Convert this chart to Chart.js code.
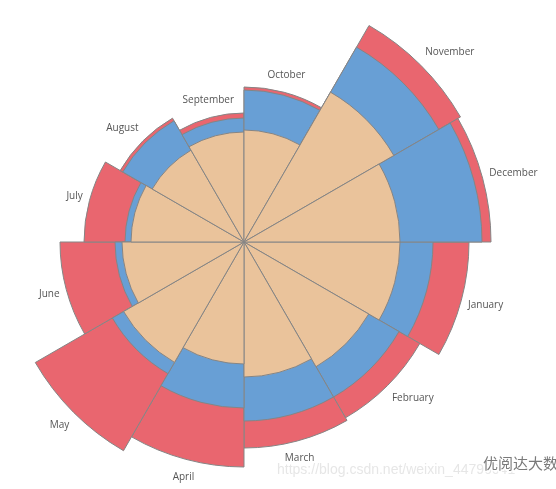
<!DOCTYPE html>
<html>
<head>
<meta charset="utf-8">
<script src="https://cdn.jsdelivr.net/npm/chart.js@4.4.1/dist/chart.umd.min.js"></script>
<style>
    html, body { margin: 0; padding: 0; background: #fff; }
    #wrap { width: 556px; height: 489px; }
</style>
</head>
<body>
<div id="wrap"><canvas id="rose" width="556" height="489"></canvas></div>
<script>
// months, clockwise from 3 o'clock
var months = ['January', 'February', 'March', 'April', 'May', 'June',
              'July', 'August', 'September', 'October', 'November', 'December'];

// stacked series (inner -> outer)
var innerValues  = [156, 144, 135, 122, 139, 122, 113, 106, 110, 112, 173, 156];
var middleValues = [33, 35, 44, 44, 13, 7, 6, 34, 14, 40, 52, 82];
var outerValues  = [36, 24, 27, 59, 89, 55, 41, 3, 5, 3, 25, 9];

var colors = ['#EAC39B', '#689FD5', '#E9666F'];

// polarArea does not stack, so each ring is drawn up to its running total
function addUp(a, b) {
    return a.map(function (v, i) { return v + b[i]; });
}
var innerTotal = innerValues.slice();
var middleTotal = addUp(innerTotal, middleValues);
var outerTotal = addUp(middleTotal, outerValues);

// month names just outside the outermost ring
var monthLabels = {
    id: 'monthLabels',
    afterDatasetsDraw: function (chart) {
        var ctx = chart.ctx;
        var scale = chart.scales.r;
        var meta = chart.getDatasetMeta(2);
        ctx.save();
        ctx.font = '10px "Open Sans"';
        ctx.fillStyle = '#555555';
        ctx.textAlign = 'center';
        ctx.textBaseline = 'middle';
        meta.data.forEach(function (arc, i) {
            var mid = (arc.startAngle + arc.endAngle) / 2;
            var c = Math.cos(mid), s = Math.sin(mid);
            var halfW = ctx.measureText(months[i]).width / 2;
            var r = scale.getDistanceFromCenterForValue(outerTotal[i]) + 9;
            // push the text away sideways on the left/right, less near the poles
            var side = Math.min(1, Math.max(0, (Math.abs(c) - 0.26) / 0.44));
            var x = scale.xCenter + c * r + Math.sign(c) * side * (halfW - 2);
            var y = scale.yCenter + s * r + s * 9;
            ctx.fillText(months[i], x, y);
        });
        ctx.restore();
    }
};

// faint blog watermark along the bottom
var watermark = {
    id: 'watermark',
    afterDraw: function (chart) {
        var ctx = chart.ctx;
        ctx.save();
        ctx.textBaseline = 'alphabetic';
        ctx.font = '14px "Liberation Sans"';
        ctx.fillStyle = 'rgba(200, 200, 200, 0.45)';
        ctx.fillText('https://blog.csdn.net/weixin_44796041', 277, 474);
        ctx.font = '15px "Noto Sans CJK SC"';
        ctx.lineWidth = 3;
        ctx.strokeStyle = 'rgba(255, 255, 255, 0.9)';
        ctx.strokeText('优阅达大数据', 483, 469);
        ctx.fillStyle = '#7a7a7a';
        ctx.fillText('优阅达大数据', 483, 469);
        ctx.restore();
    }
};

var ctx = document.getElementById('rose').getContext('2d');
var roseChart = new Chart(ctx, {
    type: 'polarArea',
    data: {
        labels: months,
        datasets: [{
            data: innerTotal,
            backgroundColor: colors[0],
            borderColor: '#858585',
            borderWidth: 1
        }, {
            data: middleTotal,
            backgroundColor: colors[1],
            borderColor: '#858585',
            borderWidth: 1
        }, {
            data: outerTotal,
            backgroundColor: colors[2],
            borderColor: '#858585',
            borderWidth: 1
        }]
    },
    options: {
        responsive: false,
        animation: false,
        startAngle: 90,
        layout: {
            padding: { left: 4, top: 2, right: 72, bottom: 7 }
        },
        scales: {
            r: {
                display: false,
                min: 0,
                max: 240,
                startAngle: 90,
                ticks: { display: false },
                grid: { display: false },
                angleLines: { display: false },
                pointLabels: { display: false }
            }
        },
        plugins: {
            legend: { display: false },
            tooltip: { enabled: false }
        }
    },
    plugins: [monthLabels, watermark]
});
</script>
</body>
</html>
